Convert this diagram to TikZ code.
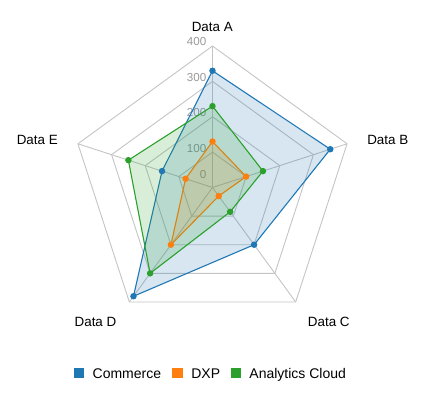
\documentclass[tikz,border=0pt]{standalone}
\usepackage{fontspec}
\setmainfont{Liberation Sans}
\usetikzlibrary{positioning}
\definecolor{commerce}{HTML}{1F77B4}
\definecolor{dxp}{HTML}{FF7F0E}
\definecolor{cloud}{HTML}{2CA02C}
\definecolor{webgray}{HTML}{C4C4C4}
\definecolor{tickgray}{HTML}{999999}
\def\rs{0.35375}

\begin{document}
\begin{tikzpicture}[x=1pt,y=1pt,
        every node/.style={font=\fontsize{13.4}{16}\selectfont},
        web/.style={draw=webgray, line width=0.9pt, line join=round},
        series/.style={draw=#1, fill=#1, fill opacity=0.18, line width=1.1pt, line join=round},
        dot/.style={circle, fill=#1, inner sep=0pt, minimum size=6.5pt},
        ticklabel/.style={font=\fontsize{11.6}{14}\selectfont, text=tickgray, anchor=east, inner sep=0pt},
        keybox/.style={fill=#1, minimum size=10.5pt, inner sep=0pt},
        keytext/.style={font=\fontsize{14}{16}\selectfont, inner sep=0pt, text height=10.5pt, text depth=0pt}]
                \useasboundingbox (-212.5,-217.5) rectangle (219.5,187.5);
                % web
                \foreach \r in {100,200,300,400}
                    \draw[web] (90:{\r*\rs}) -- (18:{\r*\rs}) -- (-54:{\r*\rs}) -- (-126:{\r*\rs}) -- (162:{\r*\rs}) -- cycle;
                \foreach \a in {90,18,-54,-126,162}
                    \draw[web] (0,0) -- (\a:{400*\rs});
                \foreach \v/\y in {400/145.5,300/110.1,200/74.8,100/39.4,0/12.5}
                    \node[ticklabel] (tick\v) at (-6,\y) {\v};
                % series
                \foreach \n/\a/\v in {A/90/330,B/18/350,C/-54/200,D/-126/380,E/162/150}
                    \coordinate (cm\n) at (\a:{\v*\rs});
                \foreach \n/\a/\v in {A/90/130,B/18/100,C/-54/30,D/-126/200,E/162/80}
                    \coordinate (dx\n) at (\a:{\v*\rs});
                \foreach \n/\a/\v in {A/90/230,B/18/150,C/-54/85,D/-126/300,E/162/250}
                    \coordinate (ac\n) at (\a:{\v*\rs});
                \draw[series=commerce] (cmA) -- (cmB) -- (cmC) -- (cmD) -- (cmE) -- cycle;
                \draw[series=dxp] (dxA) -- (dxB) -- (dxC) -- (dxD) -- (dxE) -- cycle;
                \draw[series=cloud] (acA) -- (acB) -- (acC) -- (acD) -- (acE) -- cycle;
                \foreach \n in {A,B,C,D,E} {
                    \node[dot=commerce] (cmdot\n) at (cm\n) {};
                    \node[dot=dxp] (dxdot\n) at (dx\n) {};
                    \node[dot=cloud] (acdot\n) at (ac\n) {};
                }
                % axis labels
                \node[anchor=base] (labA) at (-0.2,155.8) {Data A};
                \node[anchor=base] (labB) at (175.3,43.2) {Data B};
                \node[anchor=base] (labC) at (116.3,-139.2) {Data C};
                \node[anchor=base] (labD) at (-117,-139.2) {Data D};
                \node[anchor=base] (labE) at (-175.2,43.2) {Data E};
                % legend
                \node[keybox=commerce] (keycm) at (-133.5,-185.5) {};
                \node[keytext, right=8pt of keycm] (txtcm) {Commerce};
                \node[keybox=dxp] (keydx) at (-34.8,-185.5) {};
                \node[keytext, right=8pt of keydx] (txtdx) {DXP};
                \node[keybox=cloud] (keyac) at (23.5,-185.5) {};
                \node[keytext, right=7.8pt of keyac] (txtac) {Analytics Cloud};
            \end{tikzpicture}
\end{document}
